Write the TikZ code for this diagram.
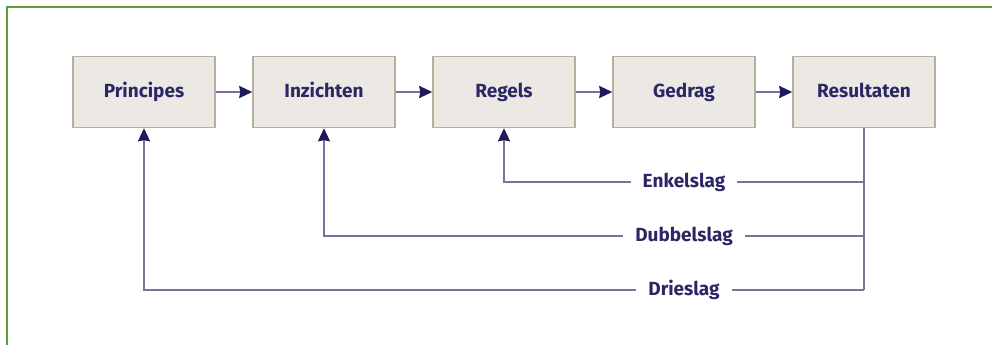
\documentclass[tikz,border=0pt]{standalone}
\usepackage{fontspec}
\setmainfont{Fira Sans}
\usetikzlibrary{arrows.meta}
\definecolor{frame}{HTML}{5AA03C}
\definecolor{boxfill}{HTML}{ECE9E4}
\definecolor{boxline}{HTML}{B8AF9C}
\definecolor{ink}{HTML}{2B2766}
\definecolor{wire}{HTML}{77739F}
\definecolor{tip}{HTML}{1E1A5C}
\tikzset{
  stage/.style={draw=boxline, line width=1.5pt, fill=boxfill, minimum width=142pt,
    minimum height=71pt, inner sep=0pt, text=ink, text height=14pt, text depth=4pt,
    font=\fontsize{19}{22}\selectfont\bfseries},
  flow/.style={draw=wire, line width=2pt, -{Stealth[length=13pt,width=12pt,inset=1pt,color=tip]}},
  loopline/.style={draw=wire, line width=2pt},
  looplabel/.style={fill=white, text=ink, inner xsep=12pt, inner ysep=3pt,
    text height=14pt, text depth=4pt, font=\fontsize{19}{22}\selectfont\bfseries}
}
\begin{document}
\begin{tikzpicture}[x=1pt,y=-1pt]
\useasboundingbox (0,0) rectangle (992,345);
% partial green frame
\draw[frame, line width=2.5pt] (7,345) -- (7,7) -- (992,7);

% the five stages
\node[stage] (p) at (144,92) {Principes};
\node[stage] (i) at (324,92) {Inzichten};
\node[stage] (r) at (504,92) {Regels};
\node[stage] (g) at (684,92) {Gedrag};
\node[stage] (s) at (864,92) {Resultaten};

\draw[flow] (p) -- (i);
\draw[flow] (i) -- (r);
\draw[flow] (r) -- (g);
\draw[flow] (g) -- (s);

% feedback loops
\coordinate (e) at (864,182);
\coordinate (d) at (864,236);
\coordinate (t) at (864,290);
\draw[loopline] (s.south) -- (t);
\draw[flow] (e) -| (r.south);
\draw[flow] (d) -| (i.south);
\draw[flow] (t) -| (p.south);
\node[looplabel] (el) at (684,182) {Enkelslag};
\node[looplabel] (dl) at (684,236) {Dubbelslag};
\node[looplabel] (tl) at (684,290) {Drieslag};
\end{tikzpicture}
\end{document}
